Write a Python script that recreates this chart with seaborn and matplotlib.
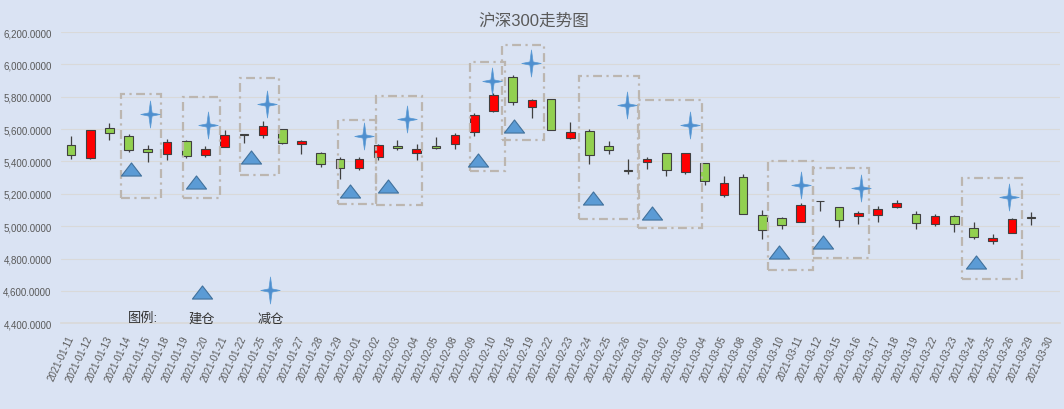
import numpy as np
import matplotlib
matplotlib.use("Agg")
import matplotlib.pyplot as plt
import seaborn as sns
from matplotlib.path import Path
from matplotlib.patches import Rectangle
from matplotlib.ticker import FuncFormatter

# daily OHLC of CSI 300
dates = ["2021-01-11", "2021-01-12", "2021-01-13", "2021-01-14", "2021-01-15", "2021-01-18",
         "2021-01-19", "2021-01-20", "2021-01-21", "2021-01-22", "2021-01-25", "2021-01-26",
         "2021-01-27", "2021-01-28", "2021-01-29", "2021-02-01", "2021-02-02", "2021-02-03",
         "2021-02-04", "2021-02-05", "2021-02-08", "2021-02-09", "2021-02-10", "2021-02-18",
         "2021-02-19", "2021-02-22", "2021-02-23", "2021-02-24", "2021-02-25", "2021-02-26",
         "2021-03-01", "2021-03-02", "2021-03-03", "2021-03-04", "2021-03-05", "2021-03-08",
         "2021-03-09", "2021-03-10", "2021-03-11", "2021-03-12", "2021-03-15", "2021-03-16",
         "2021-03-17", "2021-03-18", "2021-03-19", "2021-03-22", "2021-03-23", "2021-03-24",
         "2021-03-25", "2021-03-26", "2021-03-29", "2021-03-30"]
open_ = [5504, 5422, 5604, 5556, 5474, 5444, 5526, 5442, 5490, 5570, 5562, 5598, 5506, 5454, 5418,
         5357, 5429, 5498, 5455, 5498, 5509, 5584, 5713, 5923, 5737, 5787, 5548, 5591, 5498, 5345,
         5394, 5455, 5332, 5390, 5195, 5302, 5068, 5051, 5029, 5158, 5121, 5060, 5068, 5121, 5078,
         5013, 5062, 4990, 4908, 4957, 5054, np.nan]
close = [5442, 5592, 5574, 5472, 5460, 5520, 5436, 5478, 5562, 5563, 5622, 5514, 5526, 5384, 5358,
         5418, 5502, 5486, 5476, 5486, 5566, 5689, 5810, 5767, 5781, 5594, 5584, 5437, 5472, 5341,
         5418, 5349, 5455, 5281, 5265, 5078, 4976, 5006, 5133, 5154, 5041, 5084, 5109, 5146, 5017,
         5062, 5013, 4933, 4928, 5045, 5052, np.nan]
high = [5560, 5595, 5640, 5570, 5500, 5540, 5532, 5494, 5594, 5572, 5650, 5598, 5534, 5460, 5428,
        5425, 5507, 5535, 5511, 5554, 5578, 5697, 5824, 5935, 5789, 5787, 5646, 5603, 5527, 5416,
        5425, 5455, 5455, 5390, 5308, 5324, 5099, 5056, 5144, 5158, 5121, 5092, 5125, 5164, 5092,
        5078, 5068, 5025, 4949, 5053, 5086, np.nan]
low = [5414, 5418, 5530, 5460, 5394, 5412, 5420, 5428, 5490, 5516, 5544, 5506, 5448, 5364, 5294,
       5345, 5412, 5472, 5412, 5478, 5478, 5560, 5707, 5750, 5670, 5594, 5539, 5384, 5449, 5322,
       5353, 5308, 5322, 5256, 5179, 5078, 4920, 4982, 5029, 5093, 4994, 5013, 5029, 5113, 4984,
       5000, 4967, 4920, 4890, 4957, 5010, np.nan]

# 建仓 (build) triangles and 减仓 (reduce) stars: category position, value
build_x = [3.12, 6.50, 9.37, 14.52, 16.49, 21.18, 23.05, 27.16, 30.28, 36.89, 39.18, 47.14]
build_y = [5353, 5273, 5428, 5217, 5248, 5409, 5619, 5174, 5081, 4840, 4902, 4779]
cut_x = [4.11, 7.13, 10.20, 15.24, 17.48, 21.90, 23.93, 28.93, 32.21, 38.03, 41.16, 48.86]
cut_y = [5693, 5625, 5755, 5557, 5662, 5897, 6008, 5749, 5625, 5254, 5236, 5180]

# dash-dot frames around each trade
frame_x0 = [2.60, 5.83, 8.79, 13.89, 15.87, 20.76, 22.42, 26.48, 29.55, 36.32, 38.66, 46.41]
frame_x1 = [4.68, 7.75, 10.82, 15.87, 18.26, 22.58, 24.61, 29.60, 32.88, 38.66, 41.57, 49.53]
frame_lo = [5174, 5174, 5316, 5137, 5131, 5341, 5533, 5044, 4989, 4729, 4803, 4674]
frame_hi = [5817, 5798, 5916, 5656, 5804, 6015, 6120, 5928, 5780, 5403, 5360, 5298]

bg = "#dae3f3"
sns.set_theme(style="whitegrid", rc={
    "axes.facecolor": bg, "figure.facecolor": bg, "grid.color": "#d9d9d9",
    "grid.linewidth": 0.8, "axes.edgecolor": "#d9d9d9"})
plt.rcParams["font.family"] = ["Liberation Sans", "Noto Sans CJK SC", "DejaVu Sans"]

fig = plt.figure(figsize=(10.64, 4.10), dpi=100)
ax = fig.add_axes([0.0577, 0.209, 0.9385, 0.7105])

idx = np.arange(len(dates))
o = np.array(open_)
c = np.array(close)
up = c > o
colors = np.where(up, "#ff0000", "#92d050")

ax.vlines(idx, low, high, color="#404040", lw=0.9, zorder=2)
ax.bar(idx, np.abs(c - o), bottom=np.minimum(o, c), width=0.45, color=colors,
       edgecolor="#404040", linewidth=0.8, zorder=3)

for x0, x1, lo, hi in zip(frame_x0, frame_x1, frame_lo, frame_hi):
    ax.add_patch(Rectangle((x0, lo), x1 - x0, hi - lo, fill=False, ec="#bcb6b0",
                           lw=1.6, ls=(0, (4, 2, 1, 2)), zorder=4))

tri = Path([(-1, -0.65), (1, -0.65), (0, 0.65), (-1, -0.65)], closed=True)
w = 0.12
star = Path([(0, 1), (w, w), (0.72, 0), (w, -w), (0, -1), (-w, -w), (-0.72, 0), (-w, w), (0, 1)],
            closed=True)

sns.scatterplot(x=build_x, y=build_y, marker=tri, s=210, color="#5b9bd5",
                edgecolor="#41719c", linewidth=0.8, ax=ax, zorder=5)
sns.scatterplot(x=cut_x, y=cut_y, marker=star, s=380, color="#4f8fcf",
                edgecolor="#5b9bd5", linewidth=0.5, ax=ax, zorder=5)

# hand-drawn legend under the candles
ax.scatter([6.82], [4593], marker=tri, s=210, color="#5b9bd5", edgecolor="#41719c",
           linewidth=0.8, zorder=5, clip_on=False)
ax.scatter([10.35], [4606], marker=star, s=380, color="#4f8fcf", edgecolor="#5b9bd5",
           linewidth=0.5, zorder=5, clip_on=False)
ax.text(3.75, 4432, "图例:", ha="center", va="center", fontsize=9.5, color="#333333")
ax.text(6.82, 4427, "建仓", ha="center", va="center", fontsize=9.5, color="#333333")
ax.text(10.4, 4424, "减仓", ha="center", va="center", fontsize=9.5, color="#333333")

ax.set_xlim(-0.5, len(dates) - 0.5)
ax.set_ylim(4400, 6200)
ax.set_yticks(np.arange(4400, 6201, 200))
ax.yaxis.set_major_formatter(FuncFormatter(lambda v, p: f"{v:,.4f}"))
ax.set_xticks(idx)
ax.set_xticklabels(dates, rotation=65, ha="right", va="center", rotation_mode="anchor")
ax.set_xticks(np.arange(-0.5, len(dates), 1), minor=True)
ax.grid(axis="x", visible=False)
ax.tick_params(axis="y", length=0, pad=7, labelsize=7, labelcolor="#595959")
ax.tick_params(axis="x", which="major", length=0, pad=9, labelsize=7, labelcolor="#595959")
ax.tick_params(axis="x", which="minor", length=4, width=0.8, color="#d9d9d9", direction="out")
for s in ["left", "right", "top"]:
    ax.spines[s].set_visible(False)
ax.spines["bottom"].set_color("#d9d9d9")
ax.set_axisbelow(True)

fig.text(0.502, 0.95, "沪深300走势图", ha="center", va="center", fontsize=12, color="#595959")

fig.savefig("out.png", dpi=100, facecolor=bg)
